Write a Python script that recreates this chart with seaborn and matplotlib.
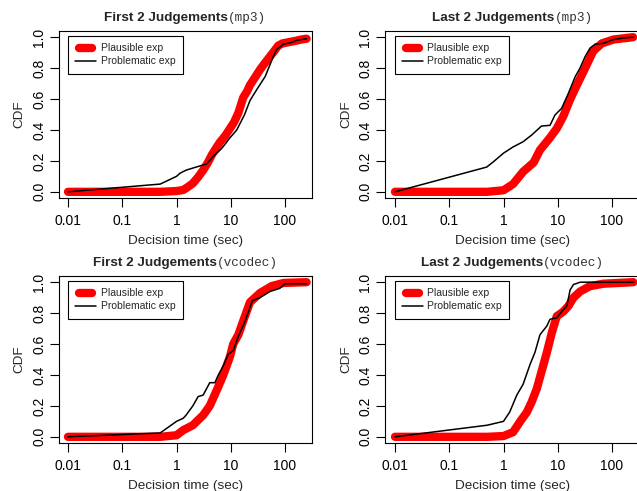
import matplotlib
matplotlib.use("Agg")
import matplotlib.pyplot as plt
from matplotlib.lines import Line2D
from matplotlib.legend_handler import HandlerLine2D
from matplotlib.transforms import offset_copy
import numpy as np
import pandas as pd
import seaborn as sns

# ---- empirical CDFs of decision time (sec) ----
# First 2 judgements, mp3
first_mp3_plaus_t = [0.01, 0.5, 1.0, 1.33, 1.6, 2.0, 2.5, 3.1, 3.8, 4.5, 5.3, 6.3, 8.0, 9.7, 11.5, 13.8,
                     17, 20, 22.6, 28, 34.6, 42, 49, 60, 75, 90, 107, 150, 200, 250]
first_mp3_plaus_cdf = [0, 0, 0.005, 0.012, 0.03, 0.055, 0.095, 0.14, 0.19, 0.24, 0.28, 0.32, 0.365, 0.41,
                       0.45, 0.51, 0.61, 0.65, 0.69, 0.74, 0.79, 0.83, 0.86, 0.9, 0.945, 0.96, 0.965,
                       0.975, 0.985, 0.99]
first_mp3_probl_t = [0.01, 0.5, 0.76, 1.0, 1.16, 1.5, 2.3, 3.6, 4.8, 6.8, 9.7, 12.9, 18, 22.6, 30, 43, 61,
                     70, 94, 130, 164, 250]
first_mp3_probl_cdf = [0, 0.05, 0.08, 0.1, 0.12, 0.14, 0.16, 0.18, 0.23, 0.28, 0.35, 0.40, 0.50, 0.59,
                       0.66, 0.745, 0.875, 0.92, 0.955, 0.965, 0.98, 0.99]

# Last 2 judgements, mp3
last_mp3_plaus_t = [0.01, 0.5, 1.0, 1.5, 2.3, 3.6, 4.7, 7.2, 9.6, 12.7, 17, 22.5, 32, 45, 65, 107, 245]
last_mp3_plaus_cdf = [0, 0, 0.01, 0.05, 0.13, 0.19, 0.27, 0.35, 0.41, 0.49, 0.60, 0.69, 0.80, 0.91,
                      0.96, 0.985, 1.0]
last_mp3_probl_t = [0.01, 0.49, 0.65, 1.0, 1.5, 2.3, 3.3, 5.0, 7.2, 8.9, 11.8, 15.7, 21, 25.7, 32, 39.5,
                    49, 69, 107, 163, 250]
last_mp3_probl_cdf = [0, 0.16, 0.194, 0.25, 0.29, 0.324, 0.367, 0.425, 0.43, 0.497, 0.54, 0.637, 0.745,
                      0.80, 0.875, 0.93, 0.955, 0.96, 0.985, 0.995, 1.0]

# First 2 judgements, vcodec
first_vc_plaus_t = [0.01, 0.5, 1.0, 1.33, 2.0, 3.1, 4.1, 5.5, 7.3, 9.7, 11.1, 13.8, 17, 22.6, 34.6, 57,
                    94, 250]
first_vc_plaus_cdf = [0, 0, 0.01, 0.043, 0.075, 0.14, 0.20, 0.30, 0.40, 0.52, 0.60, 0.66, 0.75, 0.87,
                      0.93, 0.975, 0.995, 1.0]
first_vc_probl_t = [0.01, 0.5, 0.76, 1.0, 1.33, 1.5, 2.0, 2.5, 3.1, 4.1, 5.1, 5.9, 7.3, 9.0, 11.1, 13.8,
                    18, 25, 34.6, 53, 80, 100, 250]
first_vc_probl_cdf = [0, 0.025, 0.07, 0.1, 0.12, 0.14, 0.2, 0.26, 0.27, 0.35, 0.35, 0.40, 0.46, 0.535,
                      0.557, 0.65, 0.74, 0.88, 0.90, 0.94, 0.96, 0.99, 0.99]

# Last 2 judgements, vcodec
last_vc_plaus_t = [0.01, 0.5, 1.0, 1.5, 2.0, 2.7, 3.3, 4.1, 5.1, 6.3, 7.8, 9.6, 12.7, 15.7, 19.5, 25.9,
                   39, 69, 247]
last_vc_plaus_cdf = [0, 0, 0.005, 0.03, 0.096, 0.16, 0.225, 0.31, 0.43, 0.546, 0.675, 0.78, 0.81,
                     0.846, 0.90, 0.94, 0.974, 0.99, 1.0]
last_vc_probl_t = [0.01, 0.5, 1.0, 1.3, 1.76, 2.3, 3.1, 3.8, 4.7, 6.3, 7.2, 9.6, 11.8, 14.7, 16.9, 19.5,
                   26, 250]
last_vc_probl_cdf = [0, 0.075, 0.1, 0.16, 0.27, 0.34, 0.47, 0.546, 0.66, 0.717, 0.76, 0.77, 0.81,
                     0.846, 0.95, 0.985, 1.0, 1.0]

panel_titles = [("First 2 Judgements", "(mp3)"), ("Last 2 Judgements", "(mp3)"),
                ("First 2 Judgements", "(vcodec)"), ("Last 2 Judgements", "(vcodec)")]
series_labels = ["Plausible exp", "Problematic exp"]
x_ticks = [0.01, 0.1, 1, 10, 100]
x_tick_labels = ["0.01", "0.1", "1", "10", "100"]
y_ticks = [0.0, 0.2, 0.4, 0.6, 0.8, 1.0]

panels = [
    (first_mp3_plaus_t, first_mp3_plaus_cdf, first_mp3_probl_t, first_mp3_probl_cdf),
    (last_mp3_plaus_t, last_mp3_plaus_cdf, last_mp3_probl_t, last_mp3_probl_cdf),
    (first_vc_plaus_t, first_vc_plaus_cdf, first_vc_probl_t, first_vc_probl_cdf),
    (last_vc_plaus_t, last_vc_plaus_cdf, last_vc_probl_t, last_vc_probl_cdf),
]

sns.set_style("ticks")
plt.rcParams["font.family"] = ["Liberation Sans", "DejaVu Sans"]

W, H = 637, 491
fig = plt.figure(figsize=(W / 100, H / 100), dpi=100)

# axes boxes in pixels: (left, top, right, bottom) and pixel x of the 0.01 tick
boxes = [(58.5, 31, 312, 198, 68), (385, 31, 640, 198, 395),
         (58.5, 276, 312, 443, 68), (385, 276, 640, 443, 395)]
DECADE = 54.25  # pixels per decade on the time axis

FS = 9.7
red = "#ff0000"


class ShortCapHandler(HandlerLine2D):
    """Legend line shortened so that round caps stay inside the handle box."""

    def __init__(self, shrink=0.0, **kw):
        super().__init__(**kw)
        self.shrink = shrink

    def create_artists(self, legend, orig_handle, xdescent, ydescent, width, height,
                       fontsize, trans):
        arts = super().create_artists(legend, orig_handle, xdescent, ydescent, width, height,
                                      fontsize, trans)
        for a in arts:
            xd = np.asarray(a.get_xdata(), dtype=float)
            if len(xd) >= 2:
                a.set_xdata(np.linspace(xd[0] + self.shrink, xd[-1] - self.shrink, len(xd)))
        return arts


for (l, t, r, b, x001), (pt, pc, qt, qc), (ttl_bold, ttl_mono) in zip(boxes, panels, panel_titles):
    ax = fig.add_axes([l / W, 1 - b / H, (r - l) / W, (b - t) / H])
    df_p = pd.DataFrame({"time": pt, "cdf": pc})
    df_q = pd.DataFrame({"time": qt, "cdf": qc})
    sns.lineplot(data=df_p, x="time", y="cdf", ax=ax, color=red, lw=6.0, sort=False,
                 estimator=None, solid_capstyle="round", solid_joinstyle="round")
    sns.lineplot(data=df_q, x="time", y="cdf", ax=ax, color="black", lw=1.1, sort=False,
                 estimator=None)
    ax.set_xscale("log")
    ax.set_xlim(10 ** (-2 - (x001 - l) / DECADE), 10 ** (-2 + (r - x001) / DECADE))
    ax.set_ylim(-0.04, 1.04)
    ax.set_xticks(x_ticks)
    ax.set_xticklabels(x_tick_labels)
    ax.xaxis.set_minor_locator(matplotlib.ticker.NullLocator())
    ax.set_yticks(y_ticks)
    ax.set_yticklabels([f"{v:.1f}" for v in y_ticks], rotation=90, va="center")
    ax.tick_params(axis="both", length=6.5, width=0.8, direction="out", labelsize=10,
                   color="black", labelcolor="black")
    ax.tick_params(axis="y", pad=2.5)
    ax.tick_params(axis="x", pad=5)
    for s in ax.spines.values():
        s.set_color("black")
        s.set_linewidth(0.8)
    ax.set_xlabel("Decision time (sec)", fontsize=FS, labelpad=5)
    ax.set_ylabel("CDF", fontsize=FS, labelpad=4.5)

    h_red = Line2D([], [], color=red, lw=6.0, solid_capstyle="round")
    h_blk = Line2D([], [], color="black", lw=1.1)
    leg = ax.legend([h_red, h_blk], series_labels, loc="upper left",
                    bbox_to_anchor=(0.0375, 0.97), borderaxespad=0,
                    fontsize=7.5, frameon=True, fancybox=False, edgecolor="black",
                    framealpha=1, handlelength=2.0, handletextpad=0.45, labelspacing=0.3,
                    borderpad=0.7,
                    handler_map={h_red: ShortCapHandler(shrink=3.0),
                                 h_blk: HandlerLine2D()})
    leg.get_frame().set_linewidth(0.8)

    # title: bold sans part followed by a monospace part, centred together
    renderer = fig.canvas.get_renderer()
    tb = ax.text(0, 0, ttl_bold, fontsize=FS, fontweight="bold")
    tm = ax.text(0, 0, ttl_mono, fontsize=9.2, family=["Liberation Mono", "DejaVu Sans Mono"],
                 color="#333333")
    wb = tb.get_window_extent(renderer).width
    wm = tm.get_window_extent(renderer).width
    tb.remove()
    tm.remove()
    ybase = 1 + 10 / (b - t)
    ax.text(0.5, ybase, ttl_bold, fontsize=FS, fontweight="bold", va="baseline", ha="left",
            transform=offset_copy(ax.transAxes, fig=fig, x=-(wb + wm) / 2, y=0, units="dots"))
    ax.text(0.5, ybase, ttl_mono, fontsize=9.2, family=["Liberation Mono", "DejaVu Sans Mono"],
            color="#333333", va="baseline", ha="left",
            transform=offset_copy(ax.transAxes, fig=fig, x=-(wb + wm) / 2 + wb, y=0, units="dots"))

fig.savefig("out.png", dpi=100)
